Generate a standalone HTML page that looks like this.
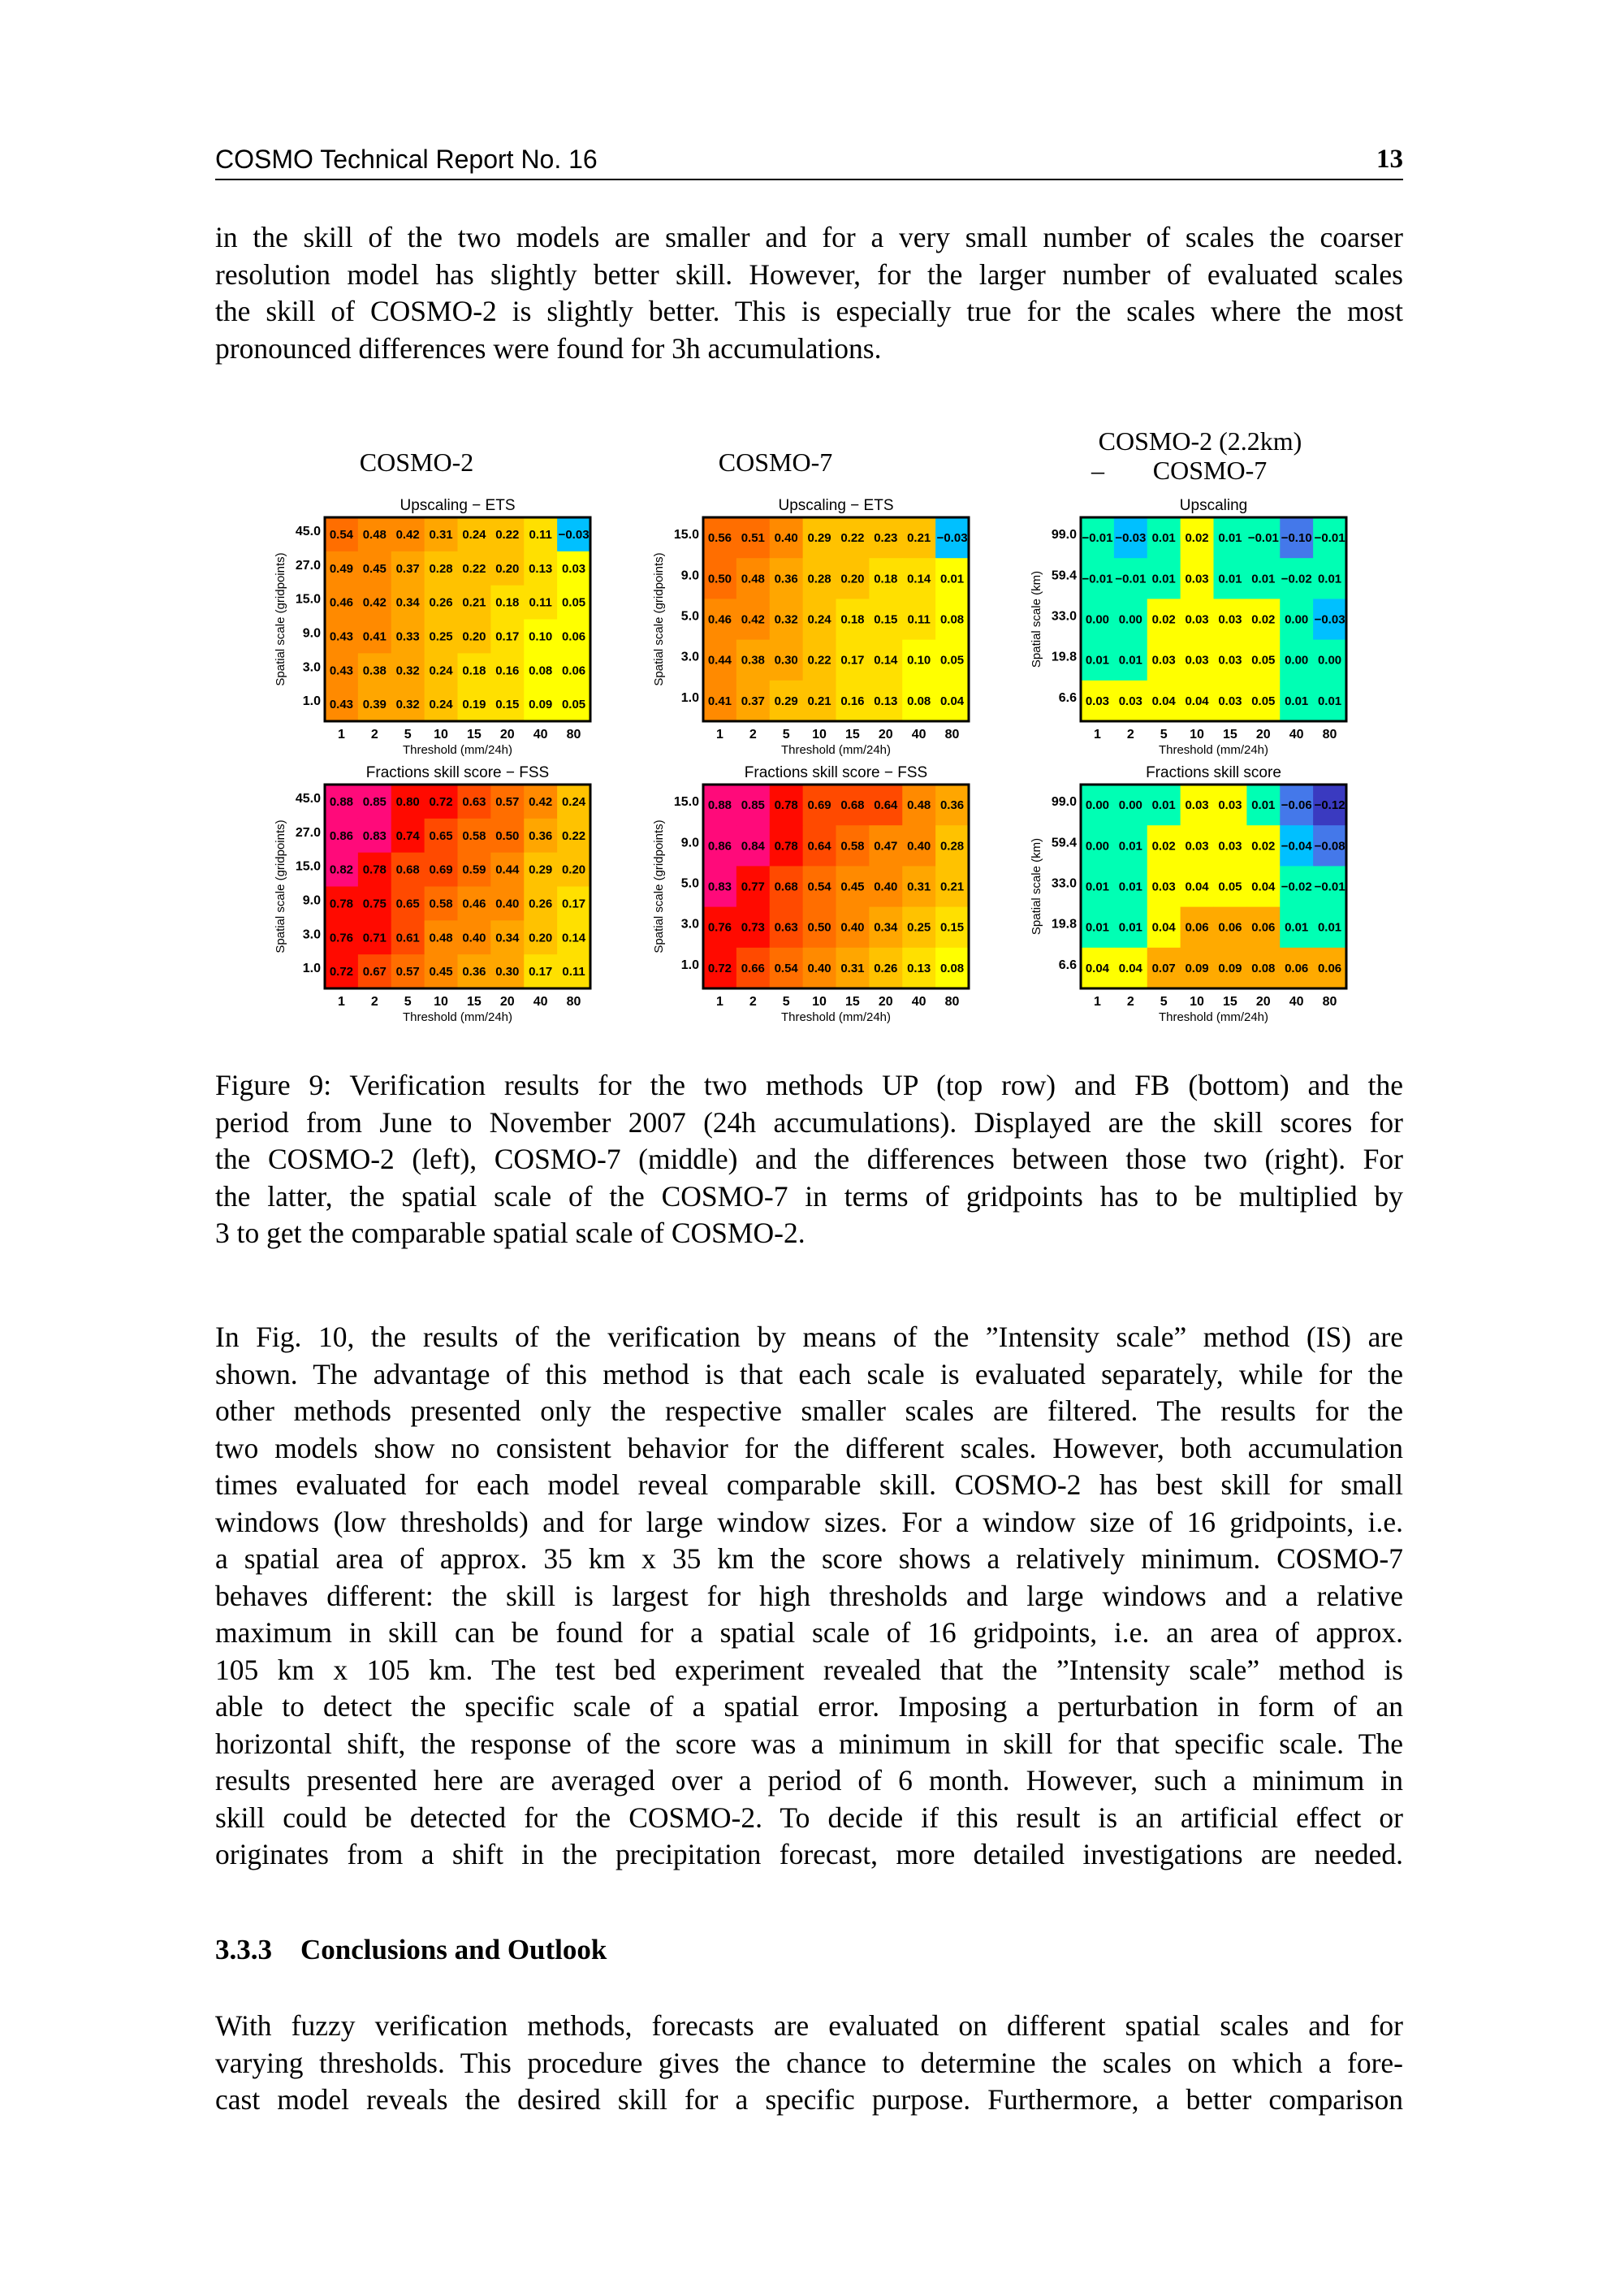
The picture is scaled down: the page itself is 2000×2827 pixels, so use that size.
<!DOCTYPE html>
<html><head><meta charset="utf-8">
<style>
html,body{margin:0;padding:0;background:#fff;}
body{width:2000px;height:2827px;position:relative;overflow:hidden;font-family:"Liberation Serif",serif;color:#000;}
.hdr{position:absolute;left:265px;top:178px;width:1463px;font-family:"Liberation Sans",sans-serif;font-size:32px;line-height:36px;}
.hdr b{position:absolute;right:0;top:0;font-family:"Liberation Serif",serif;font-size:33px;}
.rule{position:absolute;left:265px;top:220px;width:1463px;height:2px;background:#000;}
.para{position:absolute;left:265px;width:1463px;font-size:35.5px;line-height:45.5px;}
.para div{white-space:nowrap;text-align:justify;text-align-last:justify;}
.para div.last{text-align-last:left;}
.h3{position:absolute;left:265px;top:2378px;font-size:35px;line-height:45.5px;font-weight:bold;white-space:pre;}
svg text{font-family:"Liberation Sans",sans-serif;}
</style></head>
<body>
<div class="hdr">COSMO Technical Report No. 16<b>13</b></div>
<div class="rule"></div>

<div class="para" style="top:270px">
<div>in the skill of the two models are smaller and for a very small number of scales the coarser</div>
<div>resolution model has slightly better skill. However, for the larger number of evaluated scales</div>
<div>the skill of COSMO-2 is slightly better. This is especially true for the scales where the most</div>
<div class="last">pronounced differences were found for 3h accumulations.</div>
</div>

<svg id="fig" width="2000" height="1300" style="position:absolute;left:0;top:0"></svg>

<div class="para" style="top:1314px">
<div>Figure 9: Verification results for the two methods UP (top row) and FB (bottom) and the</div>
<div>period from June to November 2007 (24h accumulations). Displayed are the skill scores for</div>
<div>the COSMO-2 (left), COSMO-7 (middle) and the differences between those two (right). For</div>
<div>the latter, the spatial scale of the COSMO-7 in terms of gridpoints has to be multiplied by</div>
<div class="last">3 to get the comparable spatial scale of COSMO-2.</div>
</div>

<div class="para" style="top:1624px">
<div>In Fig. 10, the results of the verification by means of the ”Intensity scale” method (IS) are</div>
<div>shown. The advantage of this method is that each scale is evaluated separately, while for the</div>
<div>other methods presented only the respective smaller scales are filtered. The results for the</div>
<div>two models show no consistent behavior for the different scales. However, both accumulation</div>
<div>times evaluated for each model reveal comparable skill. COSMO-2 has best skill for small</div>
<div>windows (low thresholds) and for large window sizes. For a window size of 16 gridpoints, i.e.</div>
<div>a spatial area of approx. 35 km x 35 km the score shows a relatively minimum. COSMO-7</div>
<div>behaves different: the skill is largest for high thresholds and large windows and a relative</div>
<div>maximum in skill can be found for a spatial scale of 16 gridpoints, i.e. an area of approx.</div>
<div>105 km x 105 km. The test bed experiment revealed that the ”Intensity scale” method is</div>
<div>able to detect the specific scale of a spatial error. Imposing a perturbation in form of an</div>
<div>horizontal shift, the response of the score was a minimum in skill for that specific scale. The</div>
<div>results presented here are averaged over a period of 6 month. However, such a minimum in</div>
<div>skill could be detected for the COSMO-2. To decide if this result is an artificial effect or</div>
<div>originates from a shift in the precipitation forecast, more detailed investigations are needed.</div>
</div>

<div class="h3">3.3.3    Conclusions and Outlook</div>

<div class="para" style="top:2472px">
<div>With fuzzy verification methods, forecasts are evaluated on different spatial scales and for</div>
<div>varying thresholds. This procedure gives the chance to determine the scales on which a fore-</div>
<div>cast model reveals the desired skill for a specific purpose. Furthermore, a better comparison</div>
</div>

<script>
const thresholds = ["1","2","5","10","15","20","40","80"];
const scalesC2 = ["45.0","27.0","15.0","9.0","3.0","1.0"];
const scalesC7 = ["15.0","9.0","5.0","3.0","1.0"];
const scalesKm = ["99.0","59.4","33.0","19.8","6.6"];

const etsC2 = [
 [0.54,0.48,0.42,0.31,0.24,0.22,0.11,-0.03],
 [0.49,0.45,0.37,0.28,0.22,0.20,0.13,0.03],
 [0.46,0.42,0.34,0.26,0.21,0.18,0.11,0.05],
 [0.43,0.41,0.33,0.25,0.20,0.17,0.10,0.06],
 [0.43,0.38,0.32,0.24,0.18,0.16,0.08,0.06],
 [0.43,0.39,0.32,0.24,0.19,0.15,0.09,0.05]];
const fssC2 = [
 [0.88,0.85,0.80,0.72,0.63,0.57,0.42,0.24],
 [0.86,0.83,0.74,0.65,0.58,0.50,0.36,0.22],
 [0.82,0.78,0.68,0.69,0.59,0.44,0.29,0.20],
 [0.78,0.75,0.65,0.58,0.46,0.40,0.26,0.17],
 [0.76,0.71,0.61,0.48,0.40,0.34,0.20,0.14],
 [0.72,0.67,0.57,0.45,0.36,0.30,0.17,0.11]];
const etsC7 = [
 [0.56,0.51,0.40,0.29,0.22,0.23,0.21,-0.03],
 [0.50,0.48,0.36,0.28,0.20,0.18,0.14,0.01],
 [0.46,0.42,0.32,0.24,0.18,0.15,0.11,0.08],
 [0.44,0.38,0.30,0.22,0.17,0.14,0.10,0.05],
 [0.41,0.37,0.29,0.21,0.16,0.13,0.08,0.04]];
const fssC7 = [
 [0.88,0.85,0.78,0.69,0.68,0.64,0.48,0.36],
 [0.86,0.84,0.78,0.64,0.58,0.47,0.40,0.28],
 [0.83,0.77,0.68,0.54,0.45,0.40,0.31,0.21],
 [0.76,0.73,0.63,0.50,0.40,0.34,0.25,0.15],
 [0.72,0.66,0.54,0.40,0.31,0.26,0.13,0.08]];
const upDiff = [
 [-0.01,-0.03,0.01,0.02,0.01,-0.01,-0.10,-0.01],
 [-0.01,-0.01,0.01,0.03,0.01,0.01,-0.02,0.01],
 [0.00,0.00,0.02,0.03,0.03,0.02,-0.00,-0.03],
 [0.01,0.01,0.03,0.03,0.03,0.05,0.00,0.00],
 [0.03,0.03,0.04,0.04,0.03,0.05,0.01,0.01]];
const fssDiff = [
 [0.00,0.00,0.01,0.03,0.03,0.01,-0.06,-0.12],
 [0.00,0.01,0.02,0.03,0.03,0.02,-0.04,-0.08],
 [0.01,0.01,0.03,0.04,0.05,0.04,-0.02,-0.01],
 [0.01,0.01,0.04,0.06,0.06,0.06,0.01,0.01],
 [0.04,0.04,0.07,0.09,0.09,0.08,0.06,0.06]];

function skillColor(v){
  if(v>=0.82) return "#ff0a7a";
  if(v>=0.70) return "#ff0a00";
  if(v>=0.60) return "#ff4a00";
  if(v>=0.50) return "#ff6e00";
  if(v>=0.40) return "#ff8a00";
  if(v>=0.30) return "#ffa600";
  if(v>=0.20) return "#ffc200";
  if(v>=0.105) return "#ffe000";
  if(v>=0) return "#ffff00";
  return "#00c0ff";
}
function diffColor(v){
  if(v>=0.055) return "#ffaa00";
  if(v>=0.02) return "#ffff00";
  if(v>=-0.02) return "#00ffb4";
  if(v>=-0.05) return "#00c0ff";
  if(v>=-0.11) return "#4478ea";
  return "#3a3ac0";
}

const NS="http://www.w3.org/2000/svg";
const svg=document.getElementById('fig');
function mk(tag,attrs,parent){const e=document.createElementNS(NS,tag);for(const k in attrs)e.setAttribute(k,attrs[k]);(parent||svg).appendChild(e);return e;}

function panel(name,x0,y0,data,rows,cmap,title,ytitle){
  const g=mk('g',{});
  
  
  const W=327,H=251,nr=data.length,nc=thresholds.length;
  const xs=c=>x0+c*W/nc, ys=r=>y0+r*H/nr;
  data.forEach((row,r)=>row.forEach((v,c)=>{
    const rc=mk('rect',{x:xs(c),y:ys(r),width:W/nc+0.5,height:H/nr+0.5,fill:cmap(v)},g);
    
    
    const t=mk('text',{x:xs(c)+W/nc/2,y:ys(r)+H/nr/2+5,'text-anchor':'middle','font-size':'15','font-weight':'bold',fill:'#000'},g);
    t.textContent=(v<0?"\u2212":"")+Math.abs(v).toFixed(2);
    
    
  }));
  const b=mk('rect',{x:x0,y:y0,width:W,height:H,fill:'none',stroke:'#000','stroke-width':3},g);
  
  
  const tt=mk('text',{x:x0+W/2,y:y0-9,'text-anchor':'middle','font-size':'19'},g);
  tt.textContent=title;
  
  
  rows.forEach((lab,r)=>{
    const t=mk('text',{x:x0-5,y:ys(r)+H/nr/2+1,'text-anchor':'end','font-size':'16','font-weight':'bold'},g);
    t.textContent=lab;
    
    
  });
  thresholds.forEach((lab,c)=>{
    const t=mk('text',{x:xs(c)+W/nc/2,y:y0+H+21,'text-anchor':'middle','font-size':'16','font-weight':'bold'},g);
    t.textContent=lab;
    
    
  });
  const xt=mk('text',{x:x0+W/2,y:y0+H+40,'text-anchor':'middle','font-size':'15'},g);
  xt.textContent="Threshold (mm/24h)";
  
  
  const yx=x0-50, yy=y0+H/2;
  const yt=mk('text',{x:yx,y:yy,'text-anchor':'middle','font-size':'15',transform:`rotate(-90 ${yx} ${yy})`},g);
  yt.textContent=ytitle;
  
  
}

panel('cosmo2-upscaling-ets',400,637,etsC2,scalesC2,skillColor,"Upscaling \u2212 ETS","Spatial scale (gridpoints)");
panel('cosmo2-fss',400,966,fssC2,scalesC2,skillColor,"Fractions skill score \u2212 FSS","Spatial scale (gridpoints)");
panel('cosmo7-upscaling-ets',866,637,etsC7,scalesC7,skillColor,"Upscaling \u2212 ETS","Spatial scale (gridpoints)");
panel('cosmo7-fss',866,966,fssC7,scalesC7,skillColor,"Fractions skill score \u2212 FSS","Spatial scale (gridpoints)");
panel('diff-upscaling',1331,637,upDiff,scalesKm,diffColor,"Upscaling","Spatial scale (km)");
panel('diff-fss',1331,966,fssDiff,scalesKm,diffColor,"Fractions skill score","Spatial scale (km)");

function colTitle(name,x,y,txt,anchor){
  const t=mk('text',{x:x,y:y,'text-anchor':anchor||'middle','font-size':'32'});
  t.setAttribute('style','font-family:"Liberation Serif",serif');
  t.textContent=txt;
  
  
}
colTitle('cosmo2-column-title',513,580,"COSMO-2");
colTitle('cosmo7-column-title',955,580,"COSMO-7");
colTitle('diff-column-title-line1',1478,554,"COSMO-2 (2.2km)");
colTitle('diff-column-title-minus',1352,590,"\u2013");
colTitle('diff-column-title-line2',1490,590,"COSMO-7");
</script>
</body></html>
